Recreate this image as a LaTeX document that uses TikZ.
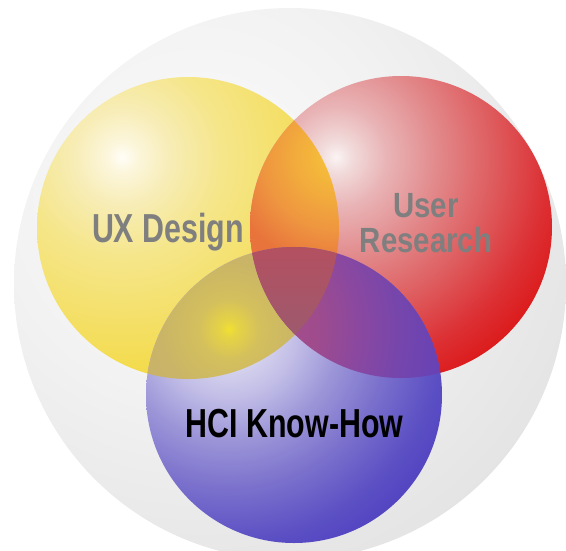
\documentclass[tikz,border=0pt]{standalone}
\usepackage{fontspec}
\setmainfont{Liberation Sans}
\newfontfamily\narrowA[FakeStretch=0.75]{Liberation Sans}
\newfontfamily\narrowB[FakeStretch=0.84]{Liberation Sans}

\definecolor{bgA}{HTML}{FBFBFB}
\definecolor{bgB}{HTML}{F2F2F2}
\definecolor{bgC}{HTML}{E4E4E4}
\definecolor{yA}{HTML}{FFFEF8}
\definecolor{yB}{HTML}{FCF6DC}
\definecolor{yC}{HTML}{F7ECB4}
\definecolor{yD}{HTML}{F5E68A}
\definecolor{yE}{HTML}{F4E06A}
\definecolor{yF}{HTML}{F4D838}
\definecolor{rA}{HTML}{FBF4F4}
\definecolor{rB}{HTML}{F2DCDC}
\definecolor{rC}{HTML}{E9B4B6}
\definecolor{rD}{HTML}{E28A8C}
\definecolor{rE}{HTML}{DE5A5C}
\definecolor{rF}{HTML}{DC3034}
\definecolor{rG}{HTML}{DC1818}
\definecolor{bA}{HTML}{EEEDF7}
\definecolor{bB}{HTML}{DCDAF0}
\definecolor{bC}{HTML}{C0BCE6}
\definecolor{bD}{HTML}{9C96D8}
\definecolor{bE}{HTML}{7A70CC}
\definecolor{bF}{HTML}{5C50C4}
\definecolor{bG}{HTML}{5040C0}
\definecolor{oA}{HTML}{F6C43A}
\definecolor{oB}{HTML}{F2AC3C}
\definecolor{oC}{HTML}{EE9440}
\definecolor{oD}{HTML}{E8743C}
\definecolor{oE}{HTML}{E46A3C}
\definecolor{gA}{HTML}{F0E030}
\definecolor{gB}{HTML}{E6D444}
\definecolor{gC}{HTML}{D4C05C}
\definecolor{gD}{HTML}{C9B468}
\definecolor{gE}{HTML}{C2A86C}
\definecolor{pA}{HTML}{A84C88}
\definecolor{pB}{HTML}{A04C8C}
\definecolor{pC}{HTML}{8A48A0}
\definecolor{pD}{HTML}{7646AC}
\definecolor{pE}{HTML}{6842B4}
\definecolor{pF}{HTML}{6040B8}
\definecolor{mTop}{HTML}{B45060}
\definecolor{mBot}{HTML}{9C5A6E}
\definecolor{labgray}{HTML}{7F7F7F}

% concentric radial shadings centred on each highlight (units: bp ~ px)
\pgfdeclareradialshading{bgball}{\pgfpointorigin}{color(0bp)=(bgA); color(200bp)=(bgB); color(405bp)=(bgC)}
\pgfdeclareradialshading{yball}{\pgfpointorigin}{color(0bp)=(yA); color(15bp)=(yB); color(50bp)=(yC); color(100bp)=(yD); color(160bp)=(yE); color(250bp)=(yF)}
\pgfdeclareradialshading{rball}{\pgfpointorigin}{color(0bp)=(rA); color(15bp)=(rB); color(50bp)=(rC); color(100bp)=(rD); color(160bp)=(rE); color(210bp)=(rF); color(250bp)=(rG)}
\pgfdeclareradialshading{bball}{\pgfpointorigin}{color(0bp)=(bA); color(30bp)=(bB); color(70bp)=(bC); color(110bp)=(bD); color(160bp)=(bE); color(210bp)=(bF); color(250bp)=(bG)}
\pgfdeclareradialshading{oball}{\pgfpointorigin}{color(0bp)=(oA); color(40bp)=(oB); color(75bp)=(oC); color(110bp)=(oD); color(250bp)=(oE)}
\pgfdeclareradialshading{gball}{\pgfpointorigin}{color(0bp)=(gA); color(8bp)=(gB); color(30bp)=(gC); color(70bp)=(gD); color(250bp)=(gE)}
\pgfdeclareradialshading{pball}{\pgfpointorigin}{color(0bp)=(pA); color(85bp)=(pB); color(130bp)=(pC); color(170bp)=(pD); color(210bp)=(pE); color(250bp)=(pF)}

\newcommand{\shadeat}[3]{\pgftext[at=\pgfpoint{#1pt}{-#2pt}]{\pgfuseshading{#3}}}

\tikzset{
  lab/.style={anchor=base, inner sep=0pt},
}

\begin{document}
\begin{tikzpicture}[x=1pt, y=-1pt]
\useasboundingbox (0,0) rectangle (566,550);
\def\Gcirc{(290,284) circle (276pt)}
\def\Ycirc{(188,228) circle (151pt)}
\def\Rcirc{(401,227) circle (151pt)}
\def\Bcirc{(294,395) circle (148pt)}
% background disc
\begin{scope}
  \clip \Gcirc;
  \shadeat{200}{194}{bgball}
\end{scope}
% yellow sphere
\begin{scope}
  \clip \Ycirc;
  \shadeat{122}{157}{yball}
\end{scope}
% red sphere
\begin{scope}
  \clip \Rcirc;
  \shadeat{336}{157}{rball}
\end{scope}
% blue sphere
\begin{scope}
  \clip \Bcirc;
  \shadeat{229}{329}{bball}
\end{scope}
% yellow & red
\begin{scope}
  \clip \Ycirc;
  \clip \Rcirc;
  \shadeat{336}{157}{oball}
\end{scope}
% yellow & blue
\begin{scope}
  \clip \Ycirc;
  \clip \Bcirc;
  \shadeat{229}{329}{gball}
\end{scope}
% red & blue
\begin{scope}
  \clip \Rcirc;
  \clip \Bcirc;
  \shadeat{229}{329}{pball}
\end{scope}
% all three
\begin{scope}
  \clip \Ycirc;
  \clip \Rcirc;
  \clip \Bcirc;
  \shade[top color=mTop, bottom color=mBot] (240,245) rectangle (350,340);
\end{scope}
% labels
\node[lab, text=labgray, font=\narrowA\bfseries\fontsize{40.5}{40}\selectfont] (ux) at (168,242) {UX Design};
\node[lab, text=labgray, align=center, font=\narrowB\bfseries\fontsize{35}{35}\selectfont] (ur) at (426,252) {User\\Research};
\node[lab, text=black, font=\narrowA\bfseries\fontsize{40.5}{40}\selectfont] (hci) at (294.5,437) {HCI Know-How};
\end{tikzpicture}
\end{document}
